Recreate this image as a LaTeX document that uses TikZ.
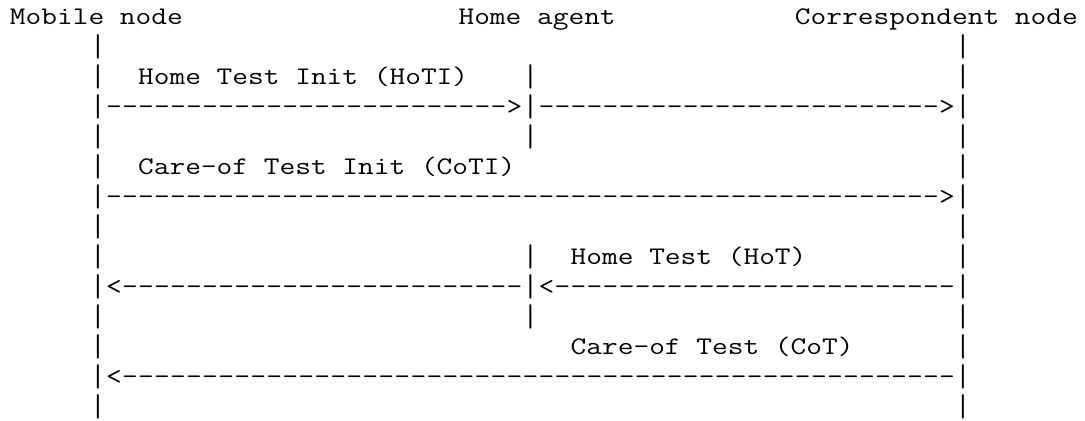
\documentclass[tikz,border=0pt]{standalone}
\usepackage{tikz}

% typewriter text, widened to the column pitch of the drawing
\newcommand\mono[1]{\scalebox{1.2045}[1]{#1}}
\newcommand\lifebar{\scalebox{1.2045}[1.24]{|}}

\begin{document}
\begin{tikzpicture}[x=12.015pt,y=-22.5pt,
    ascii/.style={font=\ttfamily\fontsize{19}{19}\selectfont,anchor=base west,inner sep=0pt,outer sep=0pt}]
        \useasboundingbox (-0.624,-0.833) rectangle (67.104,13.2);
        % participants
        \node[ascii] (mobile) at (0,0) {\mono{Mobile node}};
        \node[ascii] (home) at (28,0) {\mono{Home agent}};
        \node[ascii] (corr) at (49,0) {\mono{Correspondent node}};
        % life lines
        \foreach \r in {1,...,13}{
            \node[ascii] (mn\r) at (5,\r+0.05) {\lifebar};
            \node[ascii] (cn\r) at (59,\r+0.05) {\lifebar};
        }
        \foreach \r in {2,3,4,8,9,10}{
            \node[ascii] (ha\r) at (32,\r+0.05) {\lifebar};
        }
        % message labels
        \node[ascii] (hoti) at (8,2) {\mono{Home Test Init (HoTI)}};
        \node[ascii] (coti) at (8,5) {\mono{Care-of Test Init (CoTI)}};
        \node[ascii] (hot) at (35,8) {\mono{Home Test (HoT)}};
        \node[ascii] (cot) at (35,11) {\mono{Care-of Test (CoT)}};
        % message arrows, one character per column
        \foreach \r/\from/\to in {3/6/30,3/33/57,6/6/57,9/7/31,9/34/58,12/7/58}{
            \foreach \c in {\from,...,\to}
                \node[ascii] (d\r-\c) at (\c,\r) {\mono{-}};
        }
        \foreach \r/\c in {3/31,3/58,6/58}
            \node[ascii] (tip\r-\c) at (\c,\r) {\mono{>}};
        \foreach \r/\c in {9/6,9/33,12/6}
            \node[ascii] (tip\r-\c) at (\c,\r) {\mono{<}};
\end{tikzpicture}
\end{document}
